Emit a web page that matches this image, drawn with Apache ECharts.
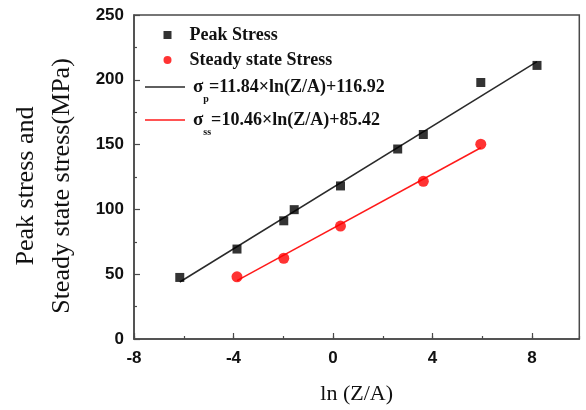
<!DOCTYPE html>
<html>
<head>
<meta charset="utf-8">
<script src="https://cdn.jsdelivr.net/npm/echarts@6/dist/echarts.min.js"></script>
<style>
  html, body { margin: 0; padding: 0; background: #fff; }
  #chart { width: 586px; height: 410px; }
</style>
</head>
<body>
<div id="chart"></div>
<script>
// Peak stress measurements
const lnZA_peak = [-6.16, -3.86, -1.98, -1.56, 0.30, 2.60, 3.63, 5.94, 8.20];
const peakStress = [47.5, 69.4, 91.2, 99.8, 118.1, 146.6, 157.8, 197.9, 211.1];

// Steady state stress measurements
const lnZA_steady = [-3.86, -1.98, 0.30, 3.63, 5.94];
const steadyStress = [48.0, 62.3, 87.1, 121.7, 150.3];

// Linear fits  sigma = slope * ln(Z/A) + intercept
const peakFit = { slope: 11.84, intercept: 116.92 };
const steadyFit = { slope: 10.46, intercept: 85.42 };

// Axis tick values
const xMajorTicks = [-8, -4, 0, 4, 8];
const yMajorTicks = [0, 50, 100, 150, 200, 250];

const SERIF = "'Liberation Serif', 'Times New Roman', serif";
const SANS = "'Liberation Sans', Arial, sans-serif";
const AXIS_COLOR = '#4a4a4a';

function pairs(xs, ys) { return xs.map((x, i) => [x, ys[i]]); }
function fitLine(xs, fit) {
  const lo = Math.min(...xs), hi = Math.max(...xs);
  return [[lo, fit.slope * lo + fit.intercept], [hi, fit.slope * hi + fit.intercept]];
}

const fitLabels = {
  fitPeak: '{sg|σ}{sub|p}{eq|=' + peakFit.slope.toFixed(2) + '×ln(Z/A)+' + peakFit.intercept.toFixed(2) + '}',
  fitSteady: '{sg|σ}{sub|ss}{eq|=' + steadyFit.slope.toFixed(2) + '×ln(Z/A)+' + steadyFit.intercept.toFixed(2) + '}'
};

const chart = echarts.init(document.getElementById('chart'), null, { renderer: 'canvas' });

chart.setOption({
  animation: false,
  backgroundColor: '#fff',
  grid: {
    left: 132.3, right: 6.7, top: 15, bottom: 66.7,
    show: true, borderColor: AXIS_COLOR, borderWidth: 1.5, backgroundColor: 'transparent'
  },
  xAxis: [
    {
      type: 'value', min: -8, max: 9.9, interval: 4,
      axisLine: { show: true, onZero: false, lineStyle: { color: AXIS_COLOR, width: 1.5 } },
      axisTick: { show: true, inside: true, length: 6, lineStyle: { color: AXIS_COLOR, width: 1.2 } },
      axisLabel: {
        show: true, margin: 11, showMaxLabel: false,
        fontFamily: SANS, fontWeight: 'bold', fontSize: 17, color: '#111',
        formatter: v => (xMajorTicks.includes(v) ? String(v) : '')
      },
      splitLine: { show: false },
      name: 'ln (Z/A)', nameLocation: 'middle', nameGap: 44,
      nameTextStyle: { fontFamily: SERIF, fontSize: 22, color: '#111' }
    },
    {
      // minor ticks every 2 units
      type: 'value', min: -8, max: 9.9, interval: 2, position: 'bottom',
      axisLine: { show: false },
      axisTick: { show: true, inside: true, length: 3, lineStyle: { color: AXIS_COLOR, width: 1.2 } },
      axisLabel: { show: false },
      splitLine: { show: false }
    }
  ],
  yAxis: {
    type: 'value', min: 0, max: 250, interval: 50,
    axisLine: { show: true, onZero: false, lineStyle: { color: AXIS_COLOR, width: 1.5 } },
    axisTick: { show: true, inside: true, length: 6, lineStyle: { color: AXIS_COLOR, width: 1.2 } },
    minorTick: { show: true, splitNumber: 2, length: 3, lineStyle: { color: AXIS_COLOR, width: 1.2 } },
    axisLabel: {
      margin: 10, fontFamily: SANS, fontWeight: 'bold', fontSize: 17, color: '#111',
      formatter: v => (yMajorTicks.includes(v) ? String(v) : '')
    },
    splitLine: { show: false },
    name: 'Peak stress and\nSteady state stress(MPa)',
    nameLocation: 'middle', nameRotate: 90, nameGap: 54,
    nameTextStyle: {
      fontFamily: SERIF, fontSize: 26, lineHeight: 36, color: '#111',
      padding: [0, 18, 0, 0]
    }
  },
  legend: [
    {
      orient: 'vertical', left: 163.5, top: 25, padding: 0,
      itemWidth: 8, itemHeight: 8, itemGap: 5,
      data: [
        { name: 'Peak Stress', icon: 'rect' },
        { name: 'Steady state Stress', icon: 'circle' }
      ],
      textStyle: {
        fontFamily: SERIF, fontWeight: 'bold', fontSize: 18, lineHeight: 20, color: '#111',
        padding: [0, 0, 0, 13]
      }
    },
    {
      orient: 'vertical', left: 145, top: 70, padding: 0,
      itemWidth: 40, itemHeight: 1.5, itemGap: -1,
      data: [
        { name: 'fitPeak', icon: 'rect' },
        { name: 'fitSteady', icon: 'rect' }
      ],
      formatter: name => fitLabels[name],
      textStyle: {
        color: '#111',
        padding: [0, 0, 0, 3],
        rich: {
          sg: { fontFamily: SERIF, fontWeight: 'bold', fontSize: 19, lineHeight: 20, color: '#111' },
          sub: { fontFamily: SERIF, fontWeight: 'bold', fontSize: 10, lineHeight: 10, padding: [24, 0, 0, 0], color: '#111' },
          eq: { fontFamily: SERIF, fontWeight: 'bold', fontSize: 18, lineHeight: 20, color: '#111' }
        }
      }
    }
  ],
  series: [
    {
      name: 'Peak Stress', type: 'scatter', xAxisIndex: 0,
      symbol: 'rect', symbolSize: 9,
      itemStyle: { color: '#000' },
      data: pairs(lnZA_peak, peakStress), z: 3
    },
    {
      name: 'Steady state Stress', type: 'scatter', xAxisIndex: 0,
      symbol: 'circle', symbolSize: 11,
      itemStyle: { color: '#ff0000' },
      data: pairs(lnZA_steady, steadyStress), z: 3
    },
    {
      name: 'fitPeak', type: 'line', xAxisIndex: 0, symbol: 'none',
      lineStyle: { color: '#2a2a2a', width: 1.5 }, itemStyle: { color: '#2a2a2a' },
      data: fitLine(lnZA_peak, peakFit), z: 2
    },
    {
      name: 'fitSteady', type: 'line', xAxisIndex: 0, symbol: 'none',
      lineStyle: { color: '#ff1a1a', width: 1.5 }, itemStyle: { color: '#ff1a1a' },
      data: fitLine(lnZA_steady, steadyFit), z: 2
    }
  ]
});
</script>
</body>
</html>
